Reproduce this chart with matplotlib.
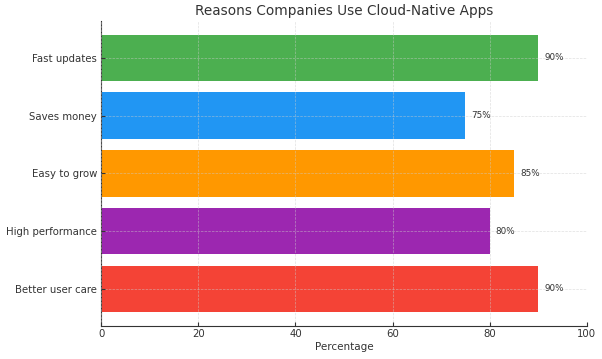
import matplotlib
matplotlib.use("Agg")
import matplotlib.pyplot as plt

# 数据
reasons = ["Fast updates", "Saves money", "Easy to grow", "High performance", "Better user care"]
percentages = [90, 75, 85, 80, 90]
colors = ["#4CAF50", "#2196F3", "#FF9800", "#9C27B0", "#F44336"]

text_color = "#333333"

fig = plt.figure(figsize=(6.02, 3.59), dpi=100)
ax = fig.add_axes([0.168, 0.092, 0.807, 0.850])

positions = list(range(len(reasons)))
bars = ax.barh(positions, percentages, height=0.8, color=colors, zorder=2)

# 每根柱子右侧的百分比标注
for bar, val in zip(bars, percentages):
    ax.text(bar.get_width() + 1.2, bar.get_y() + bar.get_height() / 2, f"{val}%",
            va="center", ha="left", fontsize=6.3, color=text_color)

ax.set_yticks(positions)
ax.set_yticklabels(reasons)
ax.set_ylim(4.64, -0.64)
ax.set_xlim(0, 100)
ax.set_xticks([0, 20, 40, 60, 80, 100])

ax.set_title("Reasons Companies Use Cloud-Native Apps", fontsize=9.8, color=text_color, pad=4)
ax.set_xlabel("Percentage", fontsize=7.5, color=text_color, labelpad=2)

ax.tick_params(axis="y", labelsize=7.3, colors=text_color, direction="in", length=3, pad=3)
ax.tick_params(axis="x", labelsize=7.3, colors=text_color, direction="in", length=3, pad=2)
ax.grid(True, linestyle="--", color="#cccccc", linewidth=0.5, alpha=0.6, zorder=3)
ax.set_axisbelow(False)

for side in ["top", "right"]:
    ax.spines[side].set_visible(False)
for side in ["left", "bottom"]:
    ax.spines[side].set_color("#333333")

fig.savefig("out.png", dpi=100)
plt.close(fig)
